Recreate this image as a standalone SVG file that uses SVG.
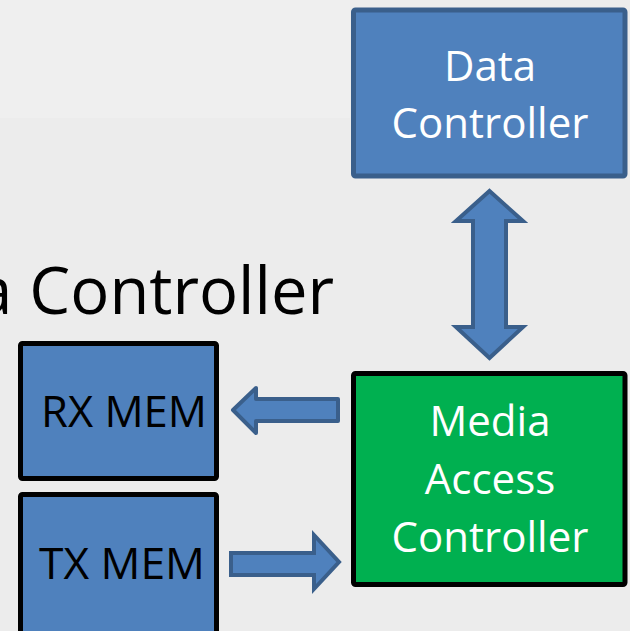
<svg xmlns="http://www.w3.org/2000/svg" width="630" height="631" viewBox="0 0 630 631">
  <style>
    .blue { fill: #4f81bd; stroke: #3a5f8b; stroke-width: 5; }
    .mem { fill: #4f81bd; stroke: #000; stroke-width: 5; }
    .mac { fill: #00b050; stroke: #000; stroke-width: 5; }
    .arrow { fill: #4f81bd; stroke: #3a5f8b; stroke-width: 4; stroke-linejoin: round; }
    .wt { fill: #fff; font-family: "Open Sans", "Liberation Sans", sans-serif; font-size: 42px; text-anchor: middle; }
    .bk { fill: #000; font-family: "Open Sans", "Liberation Sans", sans-serif; font-size: 44px; }
    .title { fill: #000; font-family: "Open Sans", "Liberation Sans", sans-serif; font-size: 65px; text-anchor: end; }
  </style>

  <!-- page background -->
  <rect x="0" y="0" width="630" height="631" fill="#ececec"/>
  <rect x="0" y="0" width="350" height="118" fill="#efefef"/>

  <!-- heading, partly off the left edge -->
  <text class="title" x="334" y="314">a Controller</text>

  <g id="data-controller">
    <rect class="blue" x="353.5" y="10" width="271.5" height="166" rx="2"/>
    <text class="wt" x="490" y="81">Data</text>
    <text class="wt" x="490" y="138">Controller</text>
  </g>

  <g id="media-access-controller">
    <rect class="mac" x="353.5" y="373.5" width="271.5" height="211" rx="2"/>
    <text class="wt" x="490" y="436">Media</text>
    <text class="wt" x="490" y="494">Access</text>
    <text class="wt" x="490" y="552">Controller</text>
  </g>

  <g id="rx-mem">
    <rect class="mem" x="20.5" y="343.5" width="196" height="135" rx="2"/>
    <text class="bk" x="41" y="427" textLength="166" lengthAdjust="spacingAndGlyphs">RX MEM</text>
  </g>

  <g id="tx-mem">
    <rect class="mem" x="20.5" y="494.5" width="196" height="150" rx="2"/>
    <text class="bk" x="39" y="579" textLength="166" lengthAdjust="spacingAndGlyphs">TX MEM</text>
  </g>

  <g id="connectors">
    <!-- Data Controller <-> Media Access Controller -->
    <path class="arrow" style="stroke-linejoin: miter"
          d="M489.5,191 L523,221 L506,221 L506,327 L523,327 L489.5,358 L456,327 L473,327 L473,221 L456,221 Z"/>
    <!-- MAC -> RX MEM -->
    <path class="arrow"
          d="M233,410 L256,388 L256,399 L338,399 L338,421 L256,421 L256,433 Z"/>
    <!-- TX MEM -> MAC -->
    <path class="arrow" style="stroke-linejoin: miter"
          d="M231,553 L314,553 L314,535 L339,562 L314,589 L314,575 L231,575 Z"/>
  </g>
</svg>
